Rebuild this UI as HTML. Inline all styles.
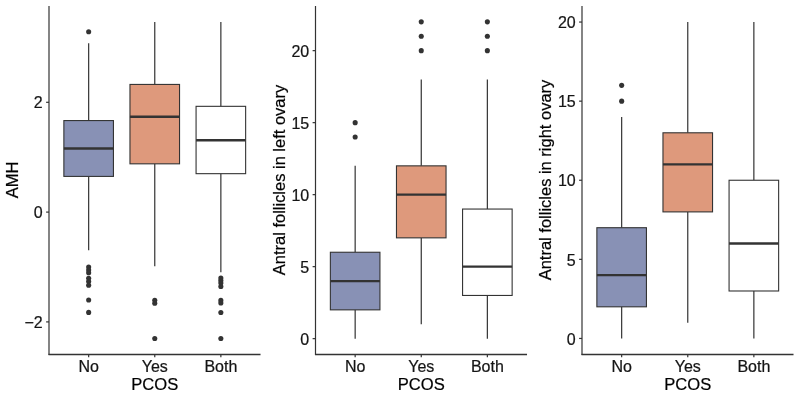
<!DOCTYPE html>
<html><head><meta charset="utf-8"><title>PCOS boxplots</title>
<style>
html,body{margin:0;padding:0;background:#fff;}
body{width:800px;height:400px;overflow:hidden;}
text{stroke:#151515;stroke-width:0.22px;}
svg{display:block;will-change:transform;font-family:"Liberation Sans",sans-serif;}
</style></head><body>
<svg width="800" height="400" viewBox="0 0 800 400">
<rect width="800" height="400" fill="#fff"/>
<g>
<line x1="88.66" x2="88.66" y1="43.37" y2="120.57" stroke="#333333" stroke-width="1.2"/>
<line x1="88.66" x2="88.66" y1="176.41" y2="250.32" stroke="#333333" stroke-width="1.2"/>
<rect x="63.87" y="120.57" width="49.57" height="55.84" fill="#8891B5" stroke="#333333" stroke-width="1.1"/>
<line x1="63.87" x2="113.45" y1="148.49" y2="148.49" stroke="#333333" stroke-width="2.35"/>
<circle cx="88.66" cy="31.70" r="2.55" fill="#333333"/>
<circle cx="88.66" cy="267.00" r="2.55" fill="#333333"/>
<circle cx="88.66" cy="270.00" r="2.55" fill="#333333"/>
<circle cx="88.66" cy="272.80" r="2.55" fill="#333333"/>
<circle cx="88.66" cy="278.20" r="2.55" fill="#333333"/>
<circle cx="88.66" cy="281.50" r="2.55" fill="#333333"/>
<circle cx="88.66" cy="285.30" r="2.55" fill="#333333"/>
<circle cx="88.66" cy="300.00" r="2.55" fill="#333333"/>
<circle cx="88.66" cy="312.40" r="2.55" fill="#333333"/>
<line x1="88.66" x2="88.66" y1="354.45" y2="357.35" stroke="#333333" stroke-width="1.2"/>
<text x="88.66" y="371.8" text-anchor="middle" font-size="16" fill="#151515">No</text>
<line x1="154.76" x2="154.76" y1="22.02" y2="84.43" stroke="#333333" stroke-width="1.2"/>
<line x1="154.76" x2="154.76" y1="163.82" y2="266.20" stroke="#333333" stroke-width="1.2"/>
<rect x="129.97" y="84.43" width="49.57" height="79.39" fill="#DE997C" stroke="#333333" stroke-width="1.1"/>
<line x1="129.97" x2="179.55" y1="116.73" y2="116.73" stroke="#333333" stroke-width="2.35"/>
<circle cx="154.76" cy="300.30" r="2.55" fill="#333333"/>
<circle cx="154.76" cy="303.20" r="2.55" fill="#333333"/>
<circle cx="154.76" cy="338.50" r="2.55" fill="#333333"/>
<line x1="154.76" x2="154.76" y1="354.45" y2="357.35" stroke="#333333" stroke-width="1.2"/>
<text x="154.76" y="371.8" text-anchor="middle" font-size="16" fill="#151515">Yes</text>
<line x1="220.86" x2="220.86" y1="22.02" y2="106.33" stroke="#333333" stroke-width="1.2"/>
<line x1="220.86" x2="220.86" y1="173.68" y2="272.23" stroke="#333333" stroke-width="1.2"/>
<rect x="196.07" y="106.33" width="49.57" height="67.34" fill="#FFFFFF" stroke="#333333" stroke-width="1.1"/>
<line x1="196.07" x2="245.65" y1="140.28" y2="140.28" stroke="#333333" stroke-width="2.35"/>
<circle cx="220.86" cy="278.00" r="2.55" fill="#333333"/>
<circle cx="220.86" cy="280.50" r="2.55" fill="#333333"/>
<circle cx="220.86" cy="283.00" r="2.55" fill="#333333"/>
<circle cx="220.86" cy="286.50" r="2.55" fill="#333333"/>
<circle cx="220.86" cy="300.40" r="2.55" fill="#333333"/>
<circle cx="220.86" cy="303.00" r="2.55" fill="#333333"/>
<circle cx="220.86" cy="312.50" r="2.55" fill="#333333"/>
<circle cx="220.86" cy="338.50" r="2.55" fill="#333333"/>
<line x1="220.86" x2="220.86" y1="354.45" y2="357.35" stroke="#333333" stroke-width="1.2"/>
<text x="220.86" y="371.8" text-anchor="middle" font-size="16" fill="#151515">Both</text>
<line x1="49.00" x2="49.00" y1="6" y2="354.95" stroke="#333333" stroke-width="1.2"/>
<line x1="48.50" x2="260.52" y1="354.45" y2="354.45" stroke="#333333" stroke-width="1.4"/>
<line x1="46.10" x2="49.00" y1="321.90" y2="321.90" stroke="#333333" stroke-width="1.2"/>
<text x="42.70" y="328.05" text-anchor="end" font-size="16" fill="#151515">−2</text>
<line x1="46.10" x2="49.00" y1="212.10" y2="212.10" stroke="#333333" stroke-width="1.2"/>
<text x="42.70" y="218.25" text-anchor="end" font-size="16" fill="#151515">0</text>
<line x1="46.10" x2="49.00" y1="102.30" y2="102.30" stroke="#333333" stroke-width="1.2"/>
<text x="42.70" y="108.45" text-anchor="end" font-size="16" fill="#151515">2</text>
<text x="154.76" y="390.2" text-anchor="middle" font-size="16" fill="#000" textLength="47.0" lengthAdjust="spacingAndGlyphs">PCOS</text>
<text transform="translate(18.00,180) rotate(-90)" text-anchor="middle" font-size="16" fill="#000" textLength="36.7" lengthAdjust="spacingAndGlyphs">AMH</text>
</g>
<g>
<line x1="355.16" x2="355.16" y1="165.85" y2="252.25" stroke="#333333" stroke-width="1.2"/>
<line x1="355.16" x2="355.16" y1="309.85" y2="338.65" stroke="#333333" stroke-width="1.2"/>
<rect x="330.37" y="252.25" width="49.57" height="57.60" fill="#8891B5" stroke="#333333" stroke-width="1.1"/>
<line x1="330.37" x2="379.95" y1="281.05" y2="281.05" stroke="#333333" stroke-width="2.35"/>
<circle cx="355.16" cy="137.05" r="2.55" fill="#333333"/>
<circle cx="355.16" cy="122.65" r="2.55" fill="#333333"/>
<line x1="355.16" x2="355.16" y1="354.45" y2="357.35" stroke="#333333" stroke-width="1.2"/>
<text x="355.16" y="371.8" text-anchor="middle" font-size="16" fill="#151515">No</text>
<line x1="421.26" x2="421.26" y1="79.45" y2="165.85" stroke="#333333" stroke-width="1.2"/>
<line x1="421.26" x2="421.26" y1="237.85" y2="324.25" stroke="#333333" stroke-width="1.2"/>
<rect x="396.47" y="165.85" width="49.57" height="72.00" fill="#DE997C" stroke="#333333" stroke-width="1.1"/>
<line x1="396.47" x2="446.05" y1="194.65" y2="194.65" stroke="#333333" stroke-width="2.35"/>
<circle cx="421.26" cy="50.65" r="2.55" fill="#333333"/>
<circle cx="421.26" cy="36.25" r="2.55" fill="#333333"/>
<circle cx="421.26" cy="21.85" r="2.55" fill="#333333"/>
<line x1="421.26" x2="421.26" y1="354.45" y2="357.35" stroke="#333333" stroke-width="1.2"/>
<text x="421.26" y="371.8" text-anchor="middle" font-size="16" fill="#151515">Yes</text>
<line x1="487.36" x2="487.36" y1="79.45" y2="209.05" stroke="#333333" stroke-width="1.2"/>
<line x1="487.36" x2="487.36" y1="295.45" y2="338.65" stroke="#333333" stroke-width="1.2"/>
<rect x="462.57" y="209.05" width="49.57" height="86.40" fill="#FFFFFF" stroke="#333333" stroke-width="1.1"/>
<line x1="462.57" x2="512.15" y1="266.65" y2="266.65" stroke="#333333" stroke-width="2.35"/>
<circle cx="487.36" cy="50.65" r="2.55" fill="#333333"/>
<circle cx="487.36" cy="36.25" r="2.55" fill="#333333"/>
<circle cx="487.36" cy="21.85" r="2.55" fill="#333333"/>
<line x1="487.36" x2="487.36" y1="354.45" y2="357.35" stroke="#333333" stroke-width="1.2"/>
<text x="487.36" y="371.8" text-anchor="middle" font-size="16" fill="#151515">Both</text>
<line x1="315.50" x2="315.50" y1="6" y2="354.95" stroke="#333333" stroke-width="1.2"/>
<line x1="315.00" x2="527.02" y1="354.45" y2="354.45" stroke="#333333" stroke-width="1.4"/>
<line x1="312.60" x2="315.50" y1="338.65" y2="338.65" stroke="#333333" stroke-width="1.2"/>
<text x="309.20" y="344.80" text-anchor="end" font-size="16" fill="#151515">0</text>
<line x1="312.60" x2="315.50" y1="266.65" y2="266.65" stroke="#333333" stroke-width="1.2"/>
<text x="309.20" y="272.80" text-anchor="end" font-size="16" fill="#151515">5</text>
<line x1="312.60" x2="315.50" y1="194.65" y2="194.65" stroke="#333333" stroke-width="1.2"/>
<text x="309.20" y="200.80" text-anchor="end" font-size="16" fill="#151515">10</text>
<line x1="312.60" x2="315.50" y1="122.65" y2="122.65" stroke="#333333" stroke-width="1.2"/>
<text x="309.20" y="128.80" text-anchor="end" font-size="16" fill="#151515">15</text>
<line x1="312.60" x2="315.50" y1="50.65" y2="50.65" stroke="#333333" stroke-width="1.2"/>
<text x="309.20" y="56.80" text-anchor="end" font-size="16" fill="#151515">20</text>
<text x="421.26" y="390.2" text-anchor="middle" font-size="16" fill="#000" textLength="47.0" lengthAdjust="spacingAndGlyphs">PCOS</text>
<text transform="translate(284.50,180) rotate(-90)" text-anchor="middle" font-size="16" fill="#000" textLength="190.3" lengthAdjust="spacingAndGlyphs">Antral follicles in left ovary</text>
</g>
<g>
<line x1="621.66" x2="621.66" y1="116.97" y2="227.71" stroke="#333333" stroke-width="1.2"/>
<line x1="621.66" x2="621.66" y1="306.81" y2="338.45" stroke="#333333" stroke-width="1.2"/>
<rect x="596.87" y="227.71" width="49.57" height="79.10" fill="#8891B5" stroke="#333333" stroke-width="1.1"/>
<line x1="596.87" x2="646.45" y1="275.17" y2="275.17" stroke="#333333" stroke-width="2.35"/>
<circle cx="621.66" cy="101.15" r="2.55" fill="#333333"/>
<circle cx="621.66" cy="85.33" r="2.55" fill="#333333"/>
<line x1="621.66" x2="621.66" y1="354.45" y2="357.35" stroke="#333333" stroke-width="1.2"/>
<text x="621.66" y="371.8" text-anchor="middle" font-size="16" fill="#151515">No</text>
<line x1="687.76" x2="687.76" y1="22.05" y2="132.79" stroke="#333333" stroke-width="1.2"/>
<line x1="687.76" x2="687.76" y1="211.89" y2="322.63" stroke="#333333" stroke-width="1.2"/>
<rect x="662.97" y="132.79" width="49.57" height="79.10" fill="#DE997C" stroke="#333333" stroke-width="1.1"/>
<line x1="662.97" x2="712.55" y1="164.43" y2="164.43" stroke="#333333" stroke-width="2.35"/>
<line x1="687.76" x2="687.76" y1="354.45" y2="357.35" stroke="#333333" stroke-width="1.2"/>
<text x="687.76" y="371.8" text-anchor="middle" font-size="16" fill="#151515">Yes</text>
<line x1="753.86" x2="753.86" y1="22.05" y2="180.25" stroke="#333333" stroke-width="1.2"/>
<line x1="753.86" x2="753.86" y1="290.99" y2="338.45" stroke="#333333" stroke-width="1.2"/>
<rect x="729.07" y="180.25" width="49.57" height="110.74" fill="#FFFFFF" stroke="#333333" stroke-width="1.1"/>
<line x1="729.07" x2="778.65" y1="243.53" y2="243.53" stroke="#333333" stroke-width="2.35"/>
<line x1="753.86" x2="753.86" y1="354.45" y2="357.35" stroke="#333333" stroke-width="1.2"/>
<text x="753.86" y="371.8" text-anchor="middle" font-size="16" fill="#151515">Both</text>
<line x1="582.00" x2="582.00" y1="6" y2="354.95" stroke="#333333" stroke-width="1.2"/>
<line x1="581.50" x2="793.52" y1="354.45" y2="354.45" stroke="#333333" stroke-width="1.4"/>
<line x1="579.10" x2="582.00" y1="338.45" y2="338.45" stroke="#333333" stroke-width="1.2"/>
<text x="575.70" y="344.60" text-anchor="end" font-size="16" fill="#151515">0</text>
<line x1="579.10" x2="582.00" y1="259.35" y2="259.35" stroke="#333333" stroke-width="1.2"/>
<text x="575.70" y="265.50" text-anchor="end" font-size="16" fill="#151515">5</text>
<line x1="579.10" x2="582.00" y1="180.25" y2="180.25" stroke="#333333" stroke-width="1.2"/>
<text x="575.70" y="186.40" text-anchor="end" font-size="16" fill="#151515">10</text>
<line x1="579.10" x2="582.00" y1="101.15" y2="101.15" stroke="#333333" stroke-width="1.2"/>
<text x="575.70" y="107.30" text-anchor="end" font-size="16" fill="#151515">15</text>
<line x1="579.10" x2="582.00" y1="22.05" y2="22.05" stroke="#333333" stroke-width="1.2"/>
<text x="575.70" y="28.20" text-anchor="end" font-size="16" fill="#151515">20</text>
<text x="687.76" y="390.2" text-anchor="middle" font-size="16" fill="#000" textLength="47.0" lengthAdjust="spacingAndGlyphs">PCOS</text>
<text transform="translate(551.00,180) rotate(-90)" text-anchor="middle" font-size="16" fill="#000" textLength="200.6" lengthAdjust="spacingAndGlyphs">Antral follicles in right ovary</text>
</g>
</svg>
</body></html>
